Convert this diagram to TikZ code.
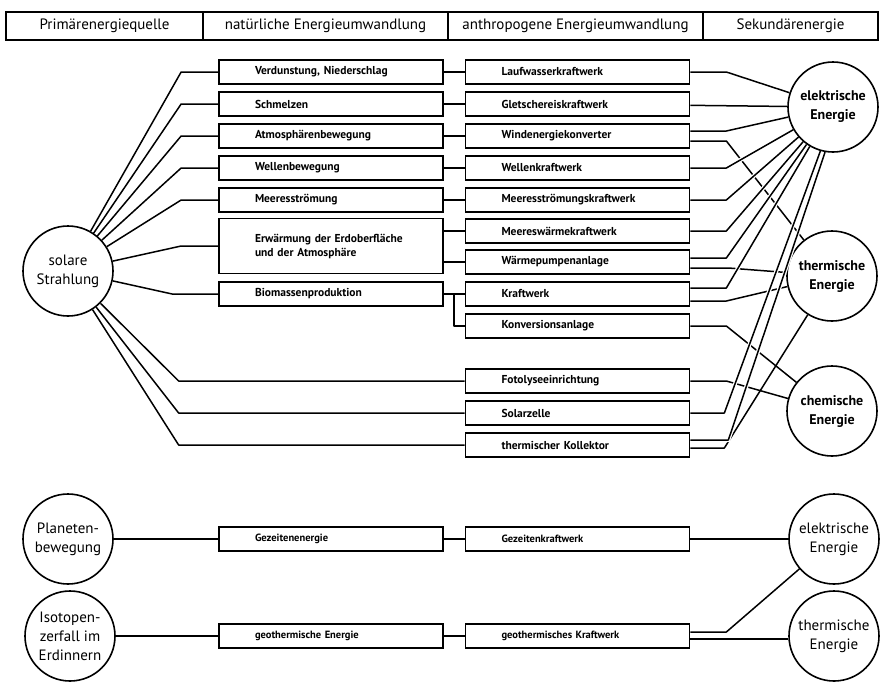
\documentclass[tikz,border=0pt]{standalone}
\usepackage{fontspec}
\setmainfont{PT Sans}
\usepackage{tikz}
\tikzset{head/.style = {draw, line width=1.5pt, minimum height=28pt, inner sep=0pt,
    font=\fontsize{15}{17}\selectfont}}
\tikzset{box/.style = {draw, line width=1.7pt, minimum width=224pt, minimum height=24pt,
    inner ysep=0pt, inner xsep=36pt, text width=152pt, align=left,
    font=\bfseries\fontsize{11.5}{14}\selectfont}}
\tikzset{energy/.style = {shape=circle, draw, line width=1.6pt, minimum size=90pt,
    inner sep=0pt, align=center, font=\fontsize{15}{19}\selectfont}}
\tikzset{link/.style = {line width=1.5pt, line join=round}}
\tikzset{over/.style = {link, preaction={draw, white, line width=4pt,
    shorten <=3pt, shorten >=3pt}}}

\begin{document}
\begin{tikzpicture}[x=1pt, y=-1pt]
            \useasboundingbox (0,0) rectangle (881,681);

            % Header
            \node[head, minimum width=197pt] (hsrc) at (104.5,26) {Primärenergiequelle};
            \node[head, minimum width=245pt] (hnat) at (325.5,26) {natürliche Energieumwandlung};
            \node[head, minimum width=255pt] (hant) at (575.5,26) {anthropogene Energieumwandlung};
            \node[head, minimum width=175pt] (hsec) at (790.5,26) {Sekundärenergie};

            % Primary sources
            \node[energy] (sol) at (68,271) {solare\\Strahlung};
            \node[energy] (plan) at (68,539) {Planeten-\\bewegung};
            \node[energy] (iso) at (70,636) {Isotopen-\\zerfall im\\Erdinnern};

            % Natural conversion
            \node[box] (verd) at (331,72) {Verdunstung, Niederschlag};
            \node[box] (schm) at (331,104) {Schmelzen};
            \node[box] (atmo) at (331,136) {Atmosphärenbewegung};
            \node[box] (wellb) at (331,168) {Wellenbewegung};
            \node[box] (meer) at (331,200) {Meeresströmung};
            \node[box, minimum height=55pt] (erw) at (331,246) {Erwärmung der Erdoberfläche\\und der Atmosphäre};
            \node[box] (bio) at (331,294) {Biomassenproduktion};
            \node[box, font=\bfseries\fontsize{10.5}{12}\selectfont] (gez) at (331,539) {Gezeitenenergie};
            \node[box, font=\bfseries\fontsize{10.5}{12}\selectfont] (geo) at (331,636) {geothermische Energie};

            % Anthropogenic conversion
            \node[box] (lauf) at (577.5,72) {Laufwasserkraftwerk};
            \node[box] (glet) at (577.5,104) {Gletschereiskraftwerk};
            \node[box] (wind) at (577.5,136) {Windenergiekonverter};
            \node[box] (wellk) at (577.5,168) {Wellenkraftwerk};
            \node[box] (meerk) at (577.5,200) {Meeresströmungskraftwerk};
            \node[box] (meerw) at (577.5,231) {Meereswärmekraftwerk};
            \node[box] (waerm) at (577.5,262) {Wärmepumpenanlage};
            \node[box] (kraft) at (577.5,294) {Kraftwerk};
            \node[box] (konv) at (577.5,326) {Konversionsanlage};
            \node[box] (foto) at (577.5,381) {Fotolyseeinrichtung};
            \node[box] (solar) at (577.5,413) {Solarzelle};
            \node[box] (koll) at (577.5,445) {thermischer Kollektor};
            \node[box, font=\bfseries\fontsize{10.5}{12}\selectfont] (gezk) at (577.5,539) {Gezeitenkraftwerk};
            \node[box, font=\bfseries\fontsize{10.5}{12}\selectfont] (geok) at (577.5,636) {geothermisches Kraftwerk};

            % Secondary energy
            \node[energy, font=\bfseries\fontsize{14}{19}\selectfont] (elek) at (833,107) {elektrische\\Energie};
            \node[energy, font=\bfseries\fontsize{14}{19}\selectfont] (therm) at (832,276) {thermische\\Energie};
            \node[energy, font=\bfseries\fontsize{14}{19}\selectfont] (chem) at (832,411) {chemische\\Energie};
            \node[energy] (elek2) at (834,539) {elektrische\\Energie};
            \node[energy] (therm2) at (834,636) {thermische\\Energie};

            % Edges
            % solar radiation
            \foreach \b in {verd,schm,atmo,wellb,meer,erw}
                \draw[link] (sol) -- ([xshift=-37pt]\b.west) -- (\b.west);
            \draw[link] (sol) -- ([xshift=-46pt]bio.west) -- (bio.west);
            \foreach \b in {foto,solar,koll}
                \draw[link] (sol) -- ([xshift=-286pt]\b.west) -- (\b.west);

            % natural -> anthropogenic
            \foreach \a/\b in {verd/lauf,schm/glet,atmo/wind,wellb/wellk,meer/meerk,bio/kraft}
                \draw[link] (\a) -- (\b);
            \draw[link] (meerw.west -| erw.east) -- (meerw.west);
            \draw[link] (waerm.west -| erw.east) -- (waerm.west);
            \coordinate (split) at ([xshift=10pt]bio.east);
            \draw[link] (split) |- (konv.west);

            % thermal and chemical energy
            \draw[link] ([yshift=-5pt]wind.east) -- ([xshift=36pt,yshift=-5pt]wind.east) -- (therm);
            \draw[link] ([yshift=-6pt]waerm.east) -- ([xshift=38pt,yshift=-6pt]waerm.east) -- (therm);
            \draw[link] ([yshift=-7pt]kraft.east) -- ([xshift=36pt,yshift=-7pt]kraft.east) -- (therm);
            \draw[link] ([yshift=-3pt]koll.east) -- ([xshift=34pt,yshift=-3pt]koll.east) -- (therm);
            \draw[link] (konv.east) -- ([xshift=36pt]konv.east) -- (chem);
            \draw[link] (foto.east) -- ([xshift=36pt]foto.east) -- (chem);

            % electric energy
            \draw[over] (lauf.east) -- ([xshift=36pt]lauf.east) -- (elek);
            \draw[over] (glet) -- (elek);
            \draw[over] ([yshift=5pt]wind.east) -- ([xshift=36pt,yshift=5pt]wind.east) -- (elek);
            \foreach \b in {wellk,meerk,meerw}
                \draw[over] (\b.east) -- ([xshift=36pt]\b.east) -- (elek);
            \draw[over] ([yshift=4pt]waerm.east) -- ([xshift=36pt,yshift=4pt]waerm.east) -- (elek);
            \draw[over] ([yshift=6pt]kraft.east) -- ([xshift=36pt,yshift=6pt]kraft.east) -- (elek);
            \draw[over] (solar.east) -- ([xshift=34pt]solar.east) -- (elek.254);
            \draw[over] ([yshift=5pt]koll.east) -- ([xshift=38pt,yshift=5pt]koll.east) -- (elek.260);

            % tides and geothermal heat
            \draw[link] (plan) -- (gez);
            \draw[link] (gez) -- (gezk);
            \draw[link] (gezk) -- (elek2);
            \draw[link] (iso) -- (geo);
            \draw[link] (geo) -- (geok);
            \draw[link] ([yshift=4pt]geok.east) -- ([xshift=36pt,yshift=4pt]geok.east) -- (elek2);
            \draw[link] ([yshift=-3pt]geok.east) -- ([yshift=-3pt]geok.east -| therm2.west);

        \end{tikzpicture}
\end{document}
